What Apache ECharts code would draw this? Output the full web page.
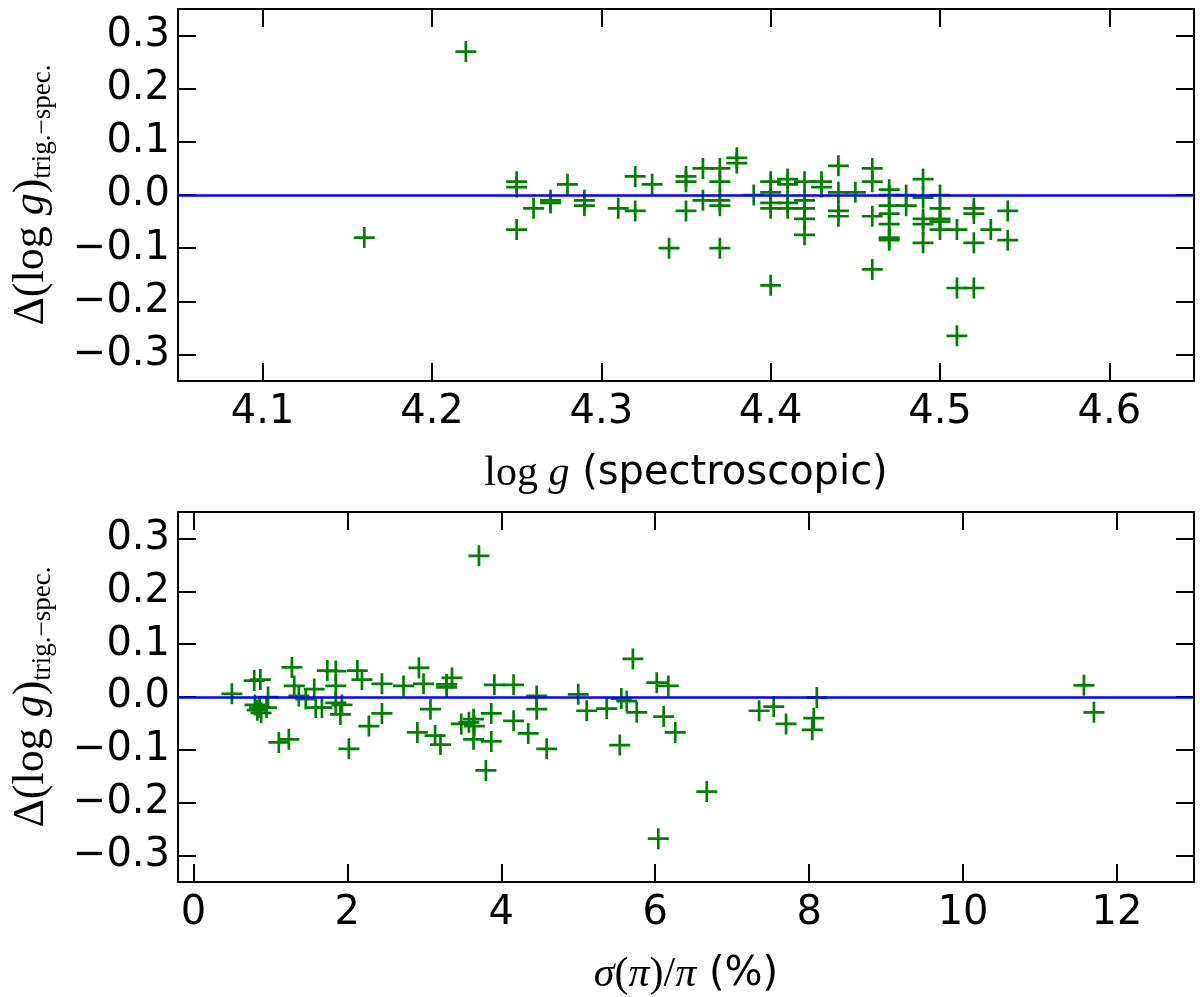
<!DOCTYPE html>
<html>
<head>
<meta charset="utf-8">
<script src="https://cdn.jsdelivr.net/npm/echarts@6/dist/echarts.min.js"></script>
<style>
html,body{margin:0;padding:0;background:#fff;}
#chart{width:1200px;height:997px;}
</style>
</head>
<body>
<div id="chart"></div>
<script>
// ---- data ----
const topLogg = [4.16,4.22,4.25,4.25,4.25,4.26,4.27,4.27,4.28,4.29,4.29,4.31,4.32,4.32,4.33,4.34,4.35,4.35,4.35,4.36,4.36,4.37,4.37,4.37,4.37,4.37,4.38,4.38,4.39,4.40,4.40,4.40,4.40,4.40,4.41,4.41,4.41,4.41,4.42,4.42,4.42,4.42,4.42,4.43,4.43,4.44,4.44,4.44,4.44,4.45,4.46,4.46,4.46,4.46,4.47,4.47,4.47,4.47,4.47,4.47,4.47,4.48,4.48,4.49,4.49,4.49,4.49,4.49,4.50,4.50,4.50,4.50,4.50,4.51,4.51,4.51,4.52,4.52,4.52,4.52,4.53,4.54,4.54];
const topDelta = [-0.08,0.27,0.025,0.015,-0.065,-0.025,-0.01,-0.015,0.02,-0.01,-0.02,-0.025,0.035,-0.03,0.02,-0.10,0.035,0.025,-0.03,0.05,-0.01,0.05,0.025,-0.01,-0.02,-0.10,0.07,0.06,0.0,0.025,0.005,-0.015,-0.025,-0.17,0.03,0.02,-0.015,-0.025,0.025,-0.01,-0.025,-0.045,-0.075,0.025,0.015,0.055,0.005,-0.03,-0.04,0.005,0.05,0.025,-0.04,-0.14,0.01,0.0,-0.02,-0.035,-0.055,-0.08,-0.085,0.0,-0.02,0.03,-0.005,-0.045,-0.055,-0.09,0.0,-0.025,-0.045,-0.05,-0.065,-0.065,-0.175,-0.265,-0.025,-0.035,-0.09,-0.175,-0.065,-0.03,-0.085];

const bottomSigma = [0.50,0.79,0.87,0.80,0.83,0.86,0.88,0.95,0.97,1.11,1.24,1.28,1.31,1.37,1.46,1.57,1.59,1.67,1.74,1.85,1.85,1.85,1.91,1.93,2.13,2.19,2.02,2.28,2.45,2.45,2.73,2.93,2.99,2.91,3.08,3.14,3.21,3.29,3.29,3.36,3.48,3.58,3.64,3.65,3.64,3.71,3.91,3.87,3.87,3.80,4.16,4.16,4.35,4.46,4.46,4.59,5.00,5.11,5.37,5.54,5.56,5.63,5.71,5.76,6.02,6.17,6.04,6.11,6.26,6.67,7.35,7.54,7.70,8.10,8.06,8.04,11.57,11.70];
const bottomDelta = [0.006,0.031,0.033,-0.015,-0.025,-0.02,-0.03,-0.02,0.0,-0.086,-0.08,0.056,0.021,0.002,-0.004,0.015,-0.02,-0.02,0.05,0.049,0.021,-0.011,-0.033,-0.015,0.05,0.033,-0.098,-0.055,0.025,-0.031,0.021,0.055,0.025,-0.067,-0.023,-0.073,-0.09,0.024,0.018,0.036,-0.051,-0.048,-0.042,-0.055,-0.08,0.267,0.023,-0.031,-0.084,-0.139,0.023,-0.045,-0.069,0.002,-0.023,-0.098,0.005,-0.026,-0.022,-0.091,-0.003,-0.008,0.072,-0.029,0.027,0.021,-0.268,-0.037,-0.067,-0.179,-0.026,-0.018,-0.051,-0.001,-0.04,-0.062,0.022,-0.029];

const topXTicks = [4.1,4.2,4.3,4.4,4.5,4.6];
const bottomXTicks = [0,2,4,6,8,10,12];
const yTicks = [-0.3,-0.2,-0.1,0.0,0.1,0.2,0.3];
const zeroLevel = 0;

// ---- styling ----
const SANS = 'DejaVu Sans';
const SERIF = 'Liberation Serif';
const plusPath = 'path://M0,8.7H20V11.3H0Z M8.7,0H11.3V20H8.7Z';
const fmtY = v => (v < -1e-9 ? '\u2212' : '') + Math.abs(v).toFixed(1);

function xAxisDef(gridIndex, min, max, ticks, pos, showLabel, name, fmt) {
  return {
    type: 'value', gridIndex, min, max, position: pos,
    splitLine: {show: false},
    axisLine: {show: true, onZero: false, lineStyle: {color: '#000', width: 2}},
    axisTick: {show: true, inside: true, length: 18, customValues: ticks, lineStyle: {color: '#000', width: 2}},
    axisLabel: {show: showLabel, customValues: ticks, formatter: fmt, color: '#000', fontFamily: SANS, fontSize: 40, margin: 12},
    name: name || '', nameLocation: 'middle', nameGap: 72,
    nameTextStyle: {color: '#000', fontFamily: SANS, fontSize: 40, rich: {
      n: {fontFamily: SERIF, fontSize: 42, color: '#000'},
      i: {fontFamily: SERIF, fontStyle: 'italic', fontSize: 42, color: '#000'},
      t: {fontFamily: SANS, fontSize: 40, color: '#000'}
    }}
  };
}
function yAxisDef(gridIndex, pos, showLabel, name) {
  return {
    type: 'value', gridIndex, min: -0.35, max: 0.35, position: pos,
    splitLine: {show: false},
    axisLine: {show: true, onZero: false, lineStyle: {color: '#000', width: 2}},
    axisTick: {show: true, inside: true, length: 18, customValues: yTicks, lineStyle: {color: '#000', width: 2}},
    axisLabel: {show: showLabel, customValues: yTicks, formatter: fmtY, color: '#000', fontFamily: SANS, fontSize: 40, margin: 8},
    name: name || '', nameLocation: 'middle', nameRotate: 90, nameGap: 122,
    nameTextStyle: {color: '#000', rich: {
      n: {fontFamily: SERIF, fontSize: 44, color: '#000'},
      i: {fontFamily: SERIF, fontStyle: 'italic', fontSize: 44, color: '#000'},
      s: {fontFamily: SERIF, fontSize: 27, color: '#000', verticalAlign: 'bottom', padding: [22, 0, 0, 0]}
    }}
  };
}

const yName = '{n|\u0394(log }{i|g}{n|)}{s|trig.\u2212spec.}';
const topName = '{n|log }{i|g}{t| (spectroscopic)}';
const botName = '{i|\u03c3}{n|(}{i|\u03c0}{n|)/}{i|\u03c0}{t| (%)}';

function scatter(xi, yi, xs, ys) {
  return {
    type: 'scatter', xAxisIndex: xi, yAxisIndex: yi,
    data: xs.map((x, k) => [x, ys[k]]),
    symbol: plusPath, symbolSize: 21,
    itemStyle: {color: '#008000', opacity: 1},
    z: 2,
    markLine: {
      silent: true, symbol: ['none', 'none'], animation: false,
      label: {show: false},
      lineStyle: {color: '#0000ff', width: 2.5, type: 'solid'},
      data: [{yAxis: zeroLevel}],
      z: 5
    }
  };
}

const chart = echarts.init(document.getElementById('chart'), null, {renderer: 'canvas'});
chart.setOption({
  animation: false,
  backgroundColor: '#ffffff',
  grid: [
    {left: 178, right: 6, top: 9, height: 372},
    {left: 178, right: 6, top: 512, height: 372}
  ],
  xAxis: [
    xAxisDef(0, 4.05, 4.65, topXTicks, 'bottom', true, topName, v => v.toFixed(1)),
    xAxisDef(0, 4.05, 4.65, topXTicks, 'top', false, '', v => v.toFixed(1)),
    xAxisDef(1, -0.2, 13, bottomXTicks, 'bottom', true, botName, v => String(Math.round(v))),
    xAxisDef(1, -0.2, 13, bottomXTicks, 'top', false, '', v => String(Math.round(v)))
  ],
  yAxis: [
    yAxisDef(0, 'left', true, yName),
    yAxisDef(0, 'right', false, ''),
    yAxisDef(1, 'left', true, yName),
    yAxisDef(1, 'right', false, '')
  ],
  series: [
    scatter(0, 0, topLogg, topDelta),
    scatter(2, 2, bottomSigma, bottomDelta)
  ]
});
</script>
</body>
</html>
